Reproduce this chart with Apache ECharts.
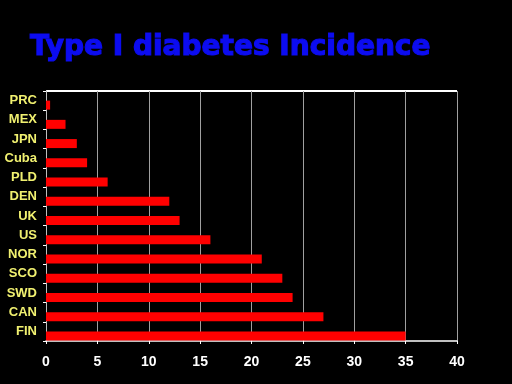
<!DOCTYPE html>
<html><head><meta charset="utf-8">
<script src="https://cdn.jsdelivr.net/npm/echarts@6/dist/echarts.min.js"></script>
<style>html,body{margin:0;padding:0;background:#000;}#c{width:512px;height:384px;}</style>
</head><body><div id="c"></div>
<script>
const categories = ['PRC','MEX','JPN','Cuba','PLD','DEN','UK','US','NOR','SCO','SWD','CAN','FIN'];
const incidence = [0.4, 1.9, 3, 4, 6, 12, 13, 16, 21, 23, 24, 27, 35];
const xTicks = [0, 5, 10, 15, 20, 25, 30, 35, 40];

const chart = echarts.init(document.getElementById('c'));
chart.setOption({
  backgroundColor: '#000',
  animation: false,
  title: {
    text: 'Type I diabetes Incidence',
    left: 25, top: 29,
    textStyle: { color: '#0c0cf0', fontSize: 28, fontWeight: 900, fontFamily: 'DejaVu Sans',
      textBorderColor: '#0c0cf0', textBorderWidth: 1.2 }
  },
  grid: { left: 46, right: 55, top: 91, bottom: 43, show: true, borderColor: 'transparent' },
  xAxis: {
    type: 'value', min: xTicks[0], max: xTicks[xTicks.length - 1], interval: 5,
    axisLine: { show: true, lineStyle: { color: '#ffffff', width: 1.5 } },
    axisTick: { show: true, length: 3, lineStyle: { color: '#ffffff' } },
    axisLabel: { color: '#ffffff', fontSize: 14, fontWeight: 'bold', fontFamily: 'Arial', margin: 14 },
    splitLine: { show: true, lineStyle: { color: '#a0a0a0', width: 1 } }
  },
  yAxis: [{
    type: 'category', data: categories, inverse: true,
    axisLine: { show: true, lineStyle: { color: '#c0c0c0', width: 1 } },
    axisTick: { show: true, length: 3, lineStyle: { color: '#ffffff' } },
    axisLabel: { color: '#f0f070', fontSize: 13, fontWeight: 'bold', fontFamily: 'Arial', margin: 9 },
    splitLine: { show: false }
  }],
  series: [
    { type: 'bar', data: categories.map(() => null), barWidth: 9, barGap: '0%', silent: true },
    { type: 'bar', data: incidence, barWidth: 9, barGap: '0%',
      itemStyle: { color: '#ff0000' } }
  ],
  graphic: [{
    type: 'line', shape: { x1: 46, y1: 91, x2: 457, y2: 91 },
    style: { stroke: '#ffffff', lineWidth: 2 }
  }]
});
</script></body></html>
